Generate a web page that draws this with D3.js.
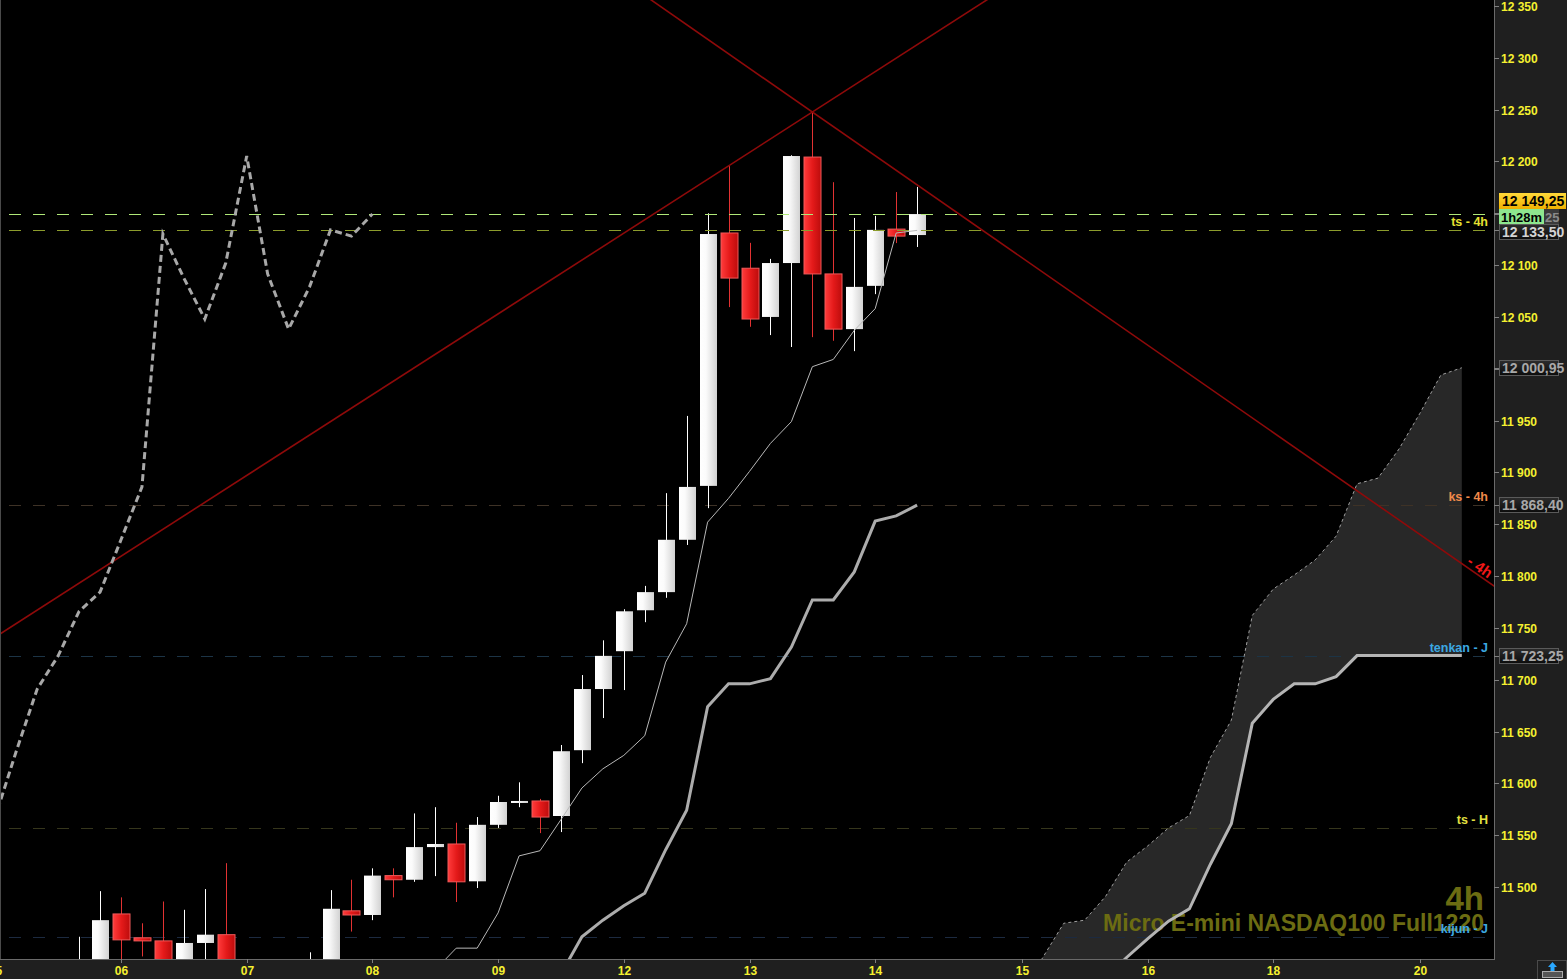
<!DOCTYPE html>
<html><head><meta charset="utf-8">
<script src="https://cdn.jsdelivr.net/npm/d3@7"></script>
<style>
html,body{margin:0;padding:0;background:#000;overflow:hidden}
svg{display:block}
text{font-family:"Liberation Sans",Arial,sans-serif;font-weight:bold}
</style>
</head><body>
<svg id="c" width="1567" height="979"></svg>
<script>
// ---------- DATA ----------
const candleStart = -2; // bar index of first candle (06 = bar 0)
const opens  = [11385,11410,11474,11451,11448,11420,11446,11454,11400,11385,11396,11400,11410,11477,11473,11511,11507,11538.5,11541.5,11505.5,11560,11582,11583,11568.5,11632,11691,11727.5,11767,11784.5,11835,11887,12131,12097,12050,12102,12204.25,12091.5,12038.25,12080,12134.75,12129];
const highs  = [11452,11496,11490,11465,11486,11478,11498,11523,11425,11412,11420,11437,11497,11507,11518,11518,11571,11577,11562,11567.5,11588,11601,11585,11637,11704.5,11738,11768,11790.5,11880,11954.5,12150,12195.5,12121.5,12106,12206,12247.75,12180,12145.5,12147.5,12170.5,12175.5];
const lows   = [11370,11400,11420,11433,11405,11410,11420,11390,11370,11360,11375,11385,11400,11457,11468,11490,11505,11510.5,11485.5,11499,11557,11577,11552,11553,11619.5,11663,11690,11755.5,11779,11830,11865.5,12059.5,12040.5,12032.5,12021,12030.5,12027,12017,12072,12121.25,12117.5];
const closes = [11425,11468,11449,11448,11415,11446,11454,11400,11385,11396,11405,11425,11479,11473,11511,11507,11538.5,11541.5,11505,11560,11582,11583,11567.5,11631,11691,11723,11766,11784.5,11835,11886,12130,12087.5,12048,12102,12205.25,12091.5,12038.25,12079,12134,12128,12149.25];

const tenkanStart = 15;
const tenkan = [11420,11441,11441,11475,11530,11535,11565,11595.5,11614,11627,11646,11717,11754,11852,11875,11901,11928,11949,12002,12009,12037,12058,12131,12133.5];

const kijunStart = 21;
const kijun = [11416,11452,11468,11482,11494,11536,11574,11674,11696,11696,11701,11731.5,11777,11777,11804,11853,11858,11868.4];

const chikouShift = 26;

const cloudStart = 43;
const spanA = [11400,11432,11465,11468,11491,11524,11539.5,11557,11569,11625,11661,11762,11787.5,11801,11815.5,11838.5,11889,11894.5,11922.5,11957,11994,12000.95];
const spanB = [11330,11350,11370,11390,11412,11432,11450,11467,11479,11522,11561,11658,11681,11696,11696,11703,11723.25,11723.25,11723.25,11723.25,11723.25,11723.25];

const trendUp   = [[-6,11741.2],[66,12676.3]];
const trendDown = [[-6,12795.8],[66,11783.9]];

const levelPrices = [12149.25,12133.5,11868.4,11723.25,11557,11451.7];
const levelLabels = [null,"ts - 4h","ks - 4h","tenkan - J","ts - H","kijun - J"];

const xTickBars   = [-6,0,6,12,18,24,30,36,43,49,55,62];
const xTickLabels = ["05","06","07","08","09","12","13","14","15","16","18","20"];
const yTicks = d3.range(11500,12351,50);

const title = "Micro E-mini NASDAQ100 Full1220";
const period = "4h";
const timerText = "1h28m";

// ---------- STYLE / LAYOUT ----------
const W=1567,H=979,PR=1494,PB=959;
const levelColors = ["#b0e878","#8c9c2c","#3e3226","#1c3446","#36361c","#1c2a40"];
const levelOnTop  = [true,true,false,false,false,false];
const levelLabelColors = [null,"#e6e032","#f08a4a","#3ca8e2","#e2e040","#3ca8e2"];

const svg=d3.select("#c");
const x=d3.scaleLinear().domain([0,36]).range([121,875.2]);
const y=d3.scaleLinear().domain([11500,12350]).range([887,6]);

const defs=svg.append("defs");
defs.append("clipPath").attr("id","plot").append("rect").attr("x",0).attr("y",0).attr("width",PR).attr("height",PB);
const gw=defs.append("linearGradient").attr("id","gw");
gw.append("stop").attr("offset","0").attr("stop-color","#ffffff");
gw.append("stop").attr("offset","0.35").attr("stop-color","#fbfbfb");
gw.append("stop").attr("offset","1").attr("stop-color","#d2d2d2");
const gr=defs.append("linearGradient").attr("id","gr");
gr.append("stop").attr("offset","0").attr("stop-color","#ff3c3c");
gr.append("stop").attr("offset","0.5").attr("stop-color","#e41a1a");
gr.append("stop").attr("offset","1").attr("stop-color","#bc0c0c");
const gg=defs.append("linearGradient").attr("id","gg").attr("x2",0).attr("y2",1);
gg.append("stop").attr("offset","0").attr("stop-color","#ffd83a");
gg.append("stop").attr("offset","1").attr("stop-color","#f0b000");
const gd=defs.append("linearGradient").attr("id","gd").attr("x2",0).attr("y2",1);
gd.append("stop").attr("offset","0").attr("stop-color","#2c2c2c");
gd.append("stop").attr("offset","1").attr("stop-color","#0c0c0c");

// panels
svg.append("rect").attr("width",W).attr("height",H).attr("fill","#000");
svg.append("rect").attr("x",PR).attr("y",0).attr("width",W-PR).attr("height",H).attr("fill","#1f1f1f");
svg.append("rect").attr("x",0).attr("y",PB).attr("width",W).attr("height",H-PB).attr("fill","#1f1f1f");
svg.append("rect").attr("x",0).attr("y",0).attr("width",PR).attr("height",PB).attr("fill","#000");

const g=svg.append("g").attr("clip-path","url(#plot)");

// cloud
const cloud=spanA.map((a,k)=>({i:cloudStart+k,a:a,b:spanB[k]}));
g.append("path").datum(cloud).attr("fill","#282828")
  .attr("d",d3.area().x(d=>x(d.i)).y0(d=>y(d.b)).y1(d=>y(d.a)));

// watermark
g.append("text").attr("x",1484).attr("y",910).attr("text-anchor","end").attr("font-size",33).attr("fill","#6c6c12").text(period);
g.append("text").attr("x",1484).attr("y",931).attr("text-anchor","end").attr("font-size",23).attr("fill","#6c6c12").text(title);

function levelLine(k){
  const p=levelPrices[k], yy=Math.round(y(p))+0.5;
  g.append("line").attr("x1",0).attr("x2",PR).attr("y1",yy).attr("y2",yy)
   .attr("stroke",levelColors[k]).attr("stroke-width",1).attr("stroke-dasharray","12,12").attr("stroke-dashoffset",15);
}
levelPrices.forEach((p,k)=>{ if(!levelOnTop[k]) levelLine(k); });

// candles
const candles=opens.map((o,k)=>({i:candleStart+k,o:o,h:highs[k],l:lows[k],c:closes[k]}));
const cg=g.append("g");
candles.forEach(d=>{
  const up=d.c>=d.o;
  const cx=Math.round(x(d.i));
  cg.append("line").attr("x1",cx+0.5).attr("x2",cx+0.5).attr("y1",y(d.h)).attr("y2",y(d.l))
    .attr("stroke",up?"#ffffff":"#e23232").attr("stroke-width",1);
  const top=y(Math.max(d.o,d.c)), bot=y(Math.min(d.o,d.c));
  const hh=Math.max(2,bot-top);
  cg.append("rect").attr("x",cx-8).attr("y",top).attr("width",17).attr("height",hh)
    .attr("fill",up?"url(#gw)":"url(#gr)")
    .attr("stroke",up?"none":"#f05a5a").attr("stroke-width",up?0:1);
});

levelPrices.forEach((p,k)=>{ if(levelOnTop[k]) levelLine(k); });

// cloud lines
g.append("path").datum(cloud).attr("fill","none").attr("stroke","#a0a0a0").attr("stroke-width",1)
  .attr("stroke-dasharray","3,3").attr("d",d3.line().x(d=>x(d.i)).y(d=>y(d.a)));
g.append("path").datum(cloud).attr("fill","none").attr("stroke","#b4b4b4").attr("stroke-width",3)
  .attr("d",d3.line().x(d=>x(d.i)).y(d=>y(d.b)));

// trend lines
[trendUp,trendDown].forEach(t=>{
  g.append("path").datum(t).attr("fill","none").attr("stroke","#8e0a0a").attr("stroke-width",1.6)
   .attr("d",d3.line().x(d=>x(d[0])).y(d=>y(d[1])));
});

// chikou
const chikou=candles.filter(d=>d.i-chikouShift>=-8).map(d=>({i:d.i-chikouShift,v:d.c}));
g.append("path").datum(chikou).attr("fill","none").attr("stroke","#a8a8a8").attr("stroke-width",3)
  .attr("stroke-dasharray","7,4").attr("d",d3.line().x(d=>x(d.i)).y(d=>y(d.v)));

// tenkan
g.append("path").datum(tenkan.map((v,k)=>({i:tenkanStart+k,v:v}))).attr("fill","none")
  .attr("stroke","#b8b8b8").attr("stroke-width",1).attr("d",d3.line().x(d=>x(d.i)).y(d=>y(d.v)));
// kijun
g.append("path").datum(kijun.map((v,k)=>({i:kijunStart+k,v:v}))).attr("fill","none")
  .attr("stroke","#acacac").attr("stroke-width",3).attr("d",d3.line().x(d=>x(d.i)).y(d=>y(d.v)));

// level labels
levelPrices.forEach((p,k)=>{
  if(!levelLabels[k])return;
  g.append("text").attr("x",1488).attr("y",Math.round(y(p))-4).attr("text-anchor","end")
   .attr("font-size",12.5).attr("fill",levelLabelColors[k]).text(levelLabels[k]);
});

// rotated trendline label
{
  const t=trendDown, sx=x(t[1][0])-x(t[0][0]), sy=y(t[1][1])-y(t[0][1]);
  const ang=Math.atan2(sy,sx)*180/Math.PI;
  const px=1488, py=y(t[0][1])+(px-x(t[0][0]))*sy/sx-3;
  g.append("text").attr("transform",`translate(${px},${py}) rotate(${ang})`).attr("text-anchor","end")
   .attr("font-size",15).attr("fill","#f01818").text("- 4h");
}

// borders
svg.append("line").attr("x1",PR+0.5).attr("x2",PR+0.5).attr("y1",0).attr("y2",PB+1).attr("stroke","#6a6a6a");
svg.append("line").attr("x1",0).attr("x2",PR+1).attr("y1",PB+0.5).attr("y2",PB+0.5).attr("stroke","#6a6a6a");
svg.append("line").attr("x1",0.5).attr("x2",0.5).attr("y1",0).attr("y2",PB).attr("stroke","#4a4a4a");

// price boxes (positions)
const last=closes[closes.length-1];
const boxYs=[200,216,Math.round(y(levelPrices[1]))+2,y(spanA[spanA.length-1]),y(kijun[kijun.length-1]),y(spanB[spanB.length-1])];

// y axis
const fmtInt=v=>d3.format(",")(v).replace(/,/g," ");
yTicks.forEach(v=>{
  const yy=Math.round(y(v))+0.5;
  svg.append("line").attr("x1",PR).attr("x2",PR+5).attr("y1",yy).attr("y2",yy).attr("stroke","#808080");
  if(boxYs.some(b=>Math.abs(b-yy)<12)) return; // hidden behind a price box
  svg.append("text").attr("x",1501).attr("y",yy+4.5).attr("font-size",12).attr("fill","#f4f030").text(fmtInt(v));
});

// x axis
xTickBars.forEach((b,k)=>{
  const xx=Math.round(x(b))+0.5;
  svg.append("line").attr("x1",xx).attr("x2",xx).attr("y1",PB).attr("y2",PB+4).attr("stroke","#808080");
  svg.append("text").attr("x",xx).attr("y",975).attr("text-anchor","middle").attr("font-size",12).attr("fill","#f4f030").text(xTickLabels[k]);
});

// price boxes
const fmtP=v=>{const s=d3.format(",.2f")(v);return s.replace(/,/g," ").replace(".",",");};
function box(v,cy,w,fill,stroke,tc){
  const yy=Math.round(cy);
  svg.append("line").attr("x1",PR).attr("x2",PR+5).attr("y1",Math.round(y(v))+0.5).attr("y2",Math.round(y(v))+0.5).attr("stroke","#808080");
  svg.append("rect").attr("x",1499.5).attr("y",yy-7.5).attr("width",w).attr("height",15).attr("fill",fill).attr("stroke",stroke);
  svg.append("text").attr("x",1502).attr("y",yy+5).attr("font-size",14).attr("fill",tc).text(fmtP(v));
}
svg.append("rect").attr("x",1499).attr("y",193).attr("width",67).attr("height",16).attr("fill","url(#gg)");
svg.append("text").attr("x",1502).attr("y",206).attr("font-size",14).attr("fill","#000").text(fmtP(last));
svg.append("line").attr("x1",PR).attr("x2",PR+5).attr("y1",Math.round(y(last))+0.5).attr("y2",Math.round(y(last))+0.5).attr("stroke","#808080");
svg.append("rect").attr("x",1544).attr("y",209).attr("width",15).attr("height",16).attr("fill","#3a3a3a");
svg.append("text").attr("x",1545).attr("y",222).attr("font-size",13).attr("fill","#8a8a8a").text("25");
svg.append("rect").attr("x",1499).attr("y",209).attr("width",45).attr("height",16).attr("fill","#8ee68e");
svg.append("text").attr("x",1501).attr("y",222).attr("font-size",13).attr("fill","#000").attr("textLength",41).attr("lengthAdjust","spacingAndGlyphs").text(timerText);
box(levelPrices[1],boxYs[2],59,"url(#gd)","#5a5a5a","#d4d4d4");
box(spanA[spanA.length-1],boxYs[3],59,"url(#gd)","#5a5a5a","#a8a8a8");
box(kijun[kijun.length-1],boxYs[4],59,"url(#gd)","#5a5a5a","#a8a8a8");
box(spanB[spanB.length-1],boxYs[5],59,"url(#gd)","#5a5a5a","#a8a8a8");

// corner icon
svg.append("rect").attr("x",1537.5).attr("y",960.5).attr("width",29).attr("height",19).attr("fill","#1f1f1f").attr("stroke","#4a4a4a");
svg.append("rect").attr("x",1542.5).attr("y",971.5).attr("width",20).attr("height",6).attr("fill","#555").attr("stroke","#aaa");
svg.append("path").attr("d","M1552.5,962 L1557,967 L1554.5,967 L1554.5,971 L1550.5,971 L1550.5,967 L1548,967 Z").attr("fill","#2aa8ff");
</script>
</body></html>
